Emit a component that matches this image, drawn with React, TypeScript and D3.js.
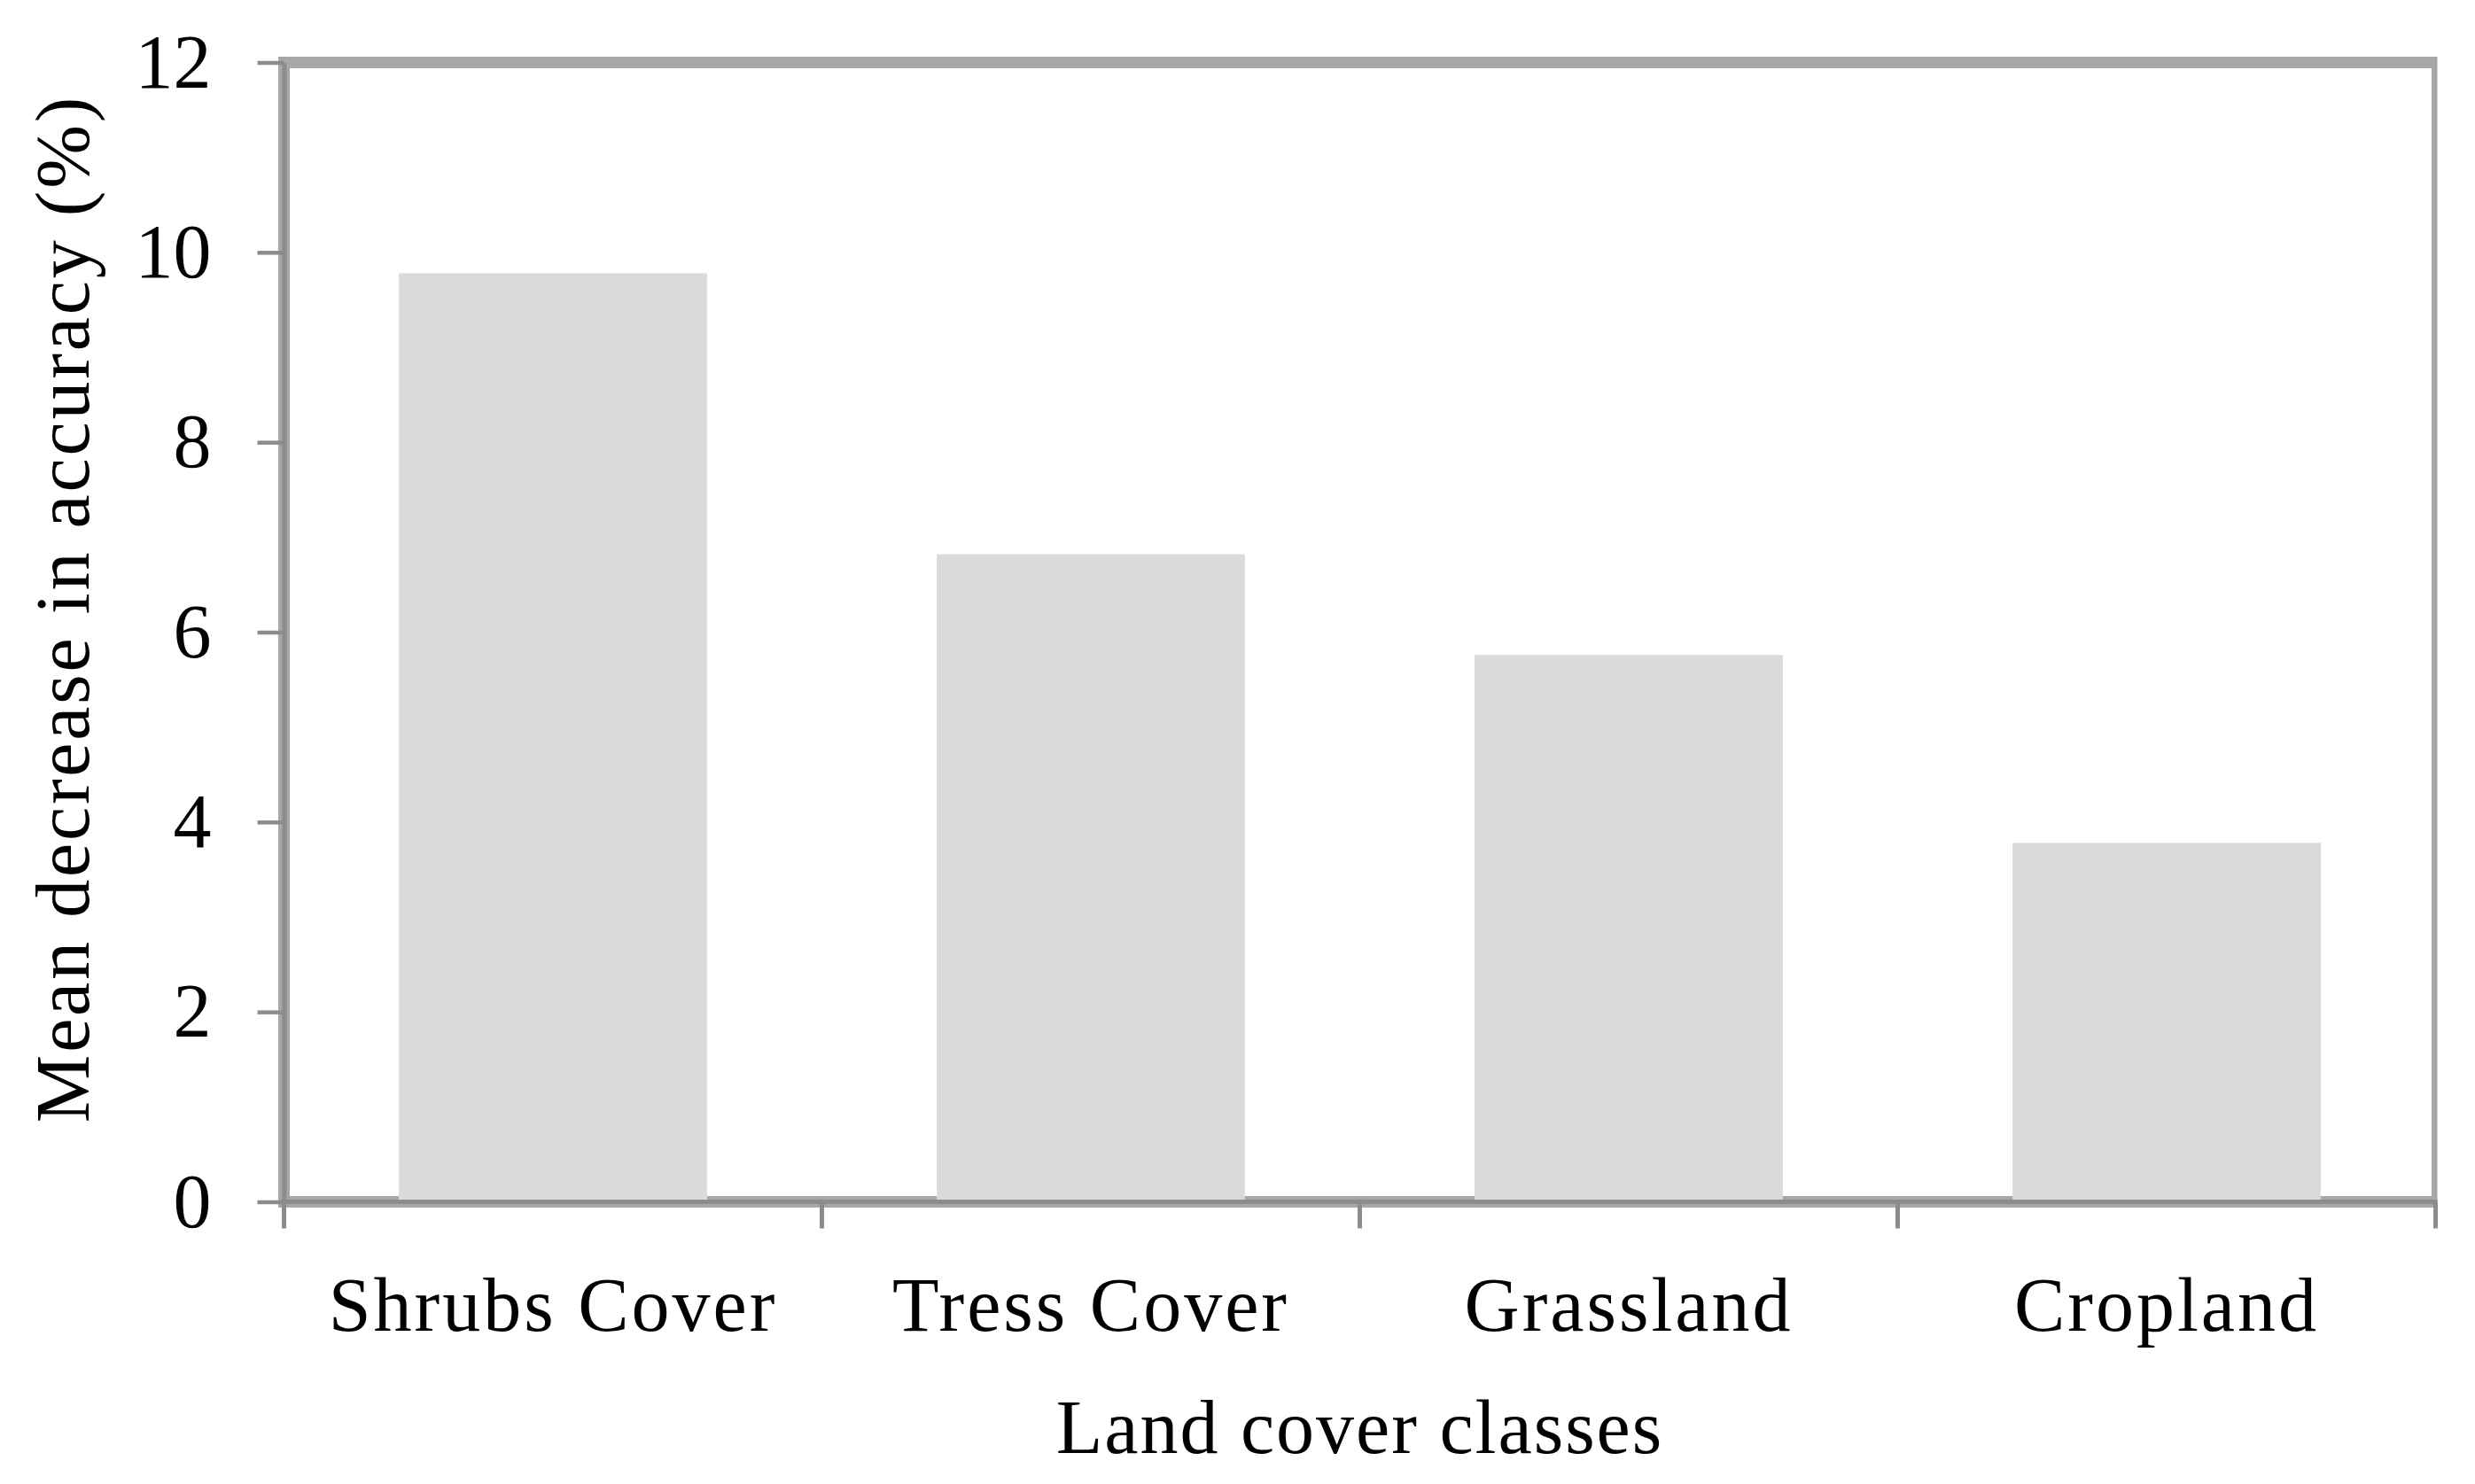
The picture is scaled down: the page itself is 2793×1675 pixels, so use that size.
import { useEffect, useRef } from "react";
import * as d3 from "d3";

// data
const categories = ["Shrubs Cover", "Tress Cover", "Grassland", "Cropland"];
const values = [9.78, 6.82, 5.76, 3.78];
const yTicks = [0, 2, 4, 6, 8, 10, 12];
const xTitle = "Land cover classes";
const yTitle = "Mean decrease in accuracy (%)";

const App = () => {
  const svgRef = useRef<SVGSVGElement | null>(null);

  useEffect(() => {
    if (!svgRef.current) return;
    const width = 2793;
    const height = 1675;
    const margin = { top: 70.5, right: 44.5, bottom: 318.5, left: 320.5 };
    const innerWidth = width - margin.left - margin.right;
    const innerHeight = height - margin.top - margin.bottom;
    const font = "'Liberation Serif', 'Times New Roman', serif";

    const svg = d3.select(svgRef.current);
    svg.selectAll("*").remove();
    svg.attr("width", width).attr("height", height);

    const g = svg.append("g").attr("transform", `translate(${margin.left},${margin.top})`);

    const xScale = d3
      .scaleBand<string>()
      .domain(categories)
      .range([0, innerWidth])
      .paddingInner(0.427)
      .paddingOuter(0.2135);

    const yScale = d3.scaleLinear().domain([0, 12]).range([innerHeight, 0]);

    // plot frame (light grey), right side clipped like the original
    svg
      .append("clipPath")
      .attr("id", "frame-clip")
      .append("rect")
      .attr("x", -20)
      .attr("y", -20)
      .attr("width", innerWidth + 22)
      .attr("height", innerHeight + 40);

    g.append("rect")
      .attr("clip-path", "url(#frame-clip)")
      .attr("x", 0)
      .attr("y", 0)
      .attr("width", innerWidth + 2)
      .attr("height", innerHeight)
      .attr("fill", "none")
      .attr("stroke", "#a7a8a6")
      .attr("stroke-width", 13);

    // bars
    g.selectAll(".bar")
      .data(categories)
      .enter()
      .append("rect")
      .attr("class", "bar")
      .attr("x", (d) => xScale(d)!)
      .attr("y", (d, i) => yScale(values[i]))
      .attr("width", xScale.bandwidth())
      .attr("height", (d, i) => innerHeight - yScale(values[i]))
      .attr("fill", "#d9dadc");

    // y axis
    const yAxis = g
      .append("g")
      .call(d3.axisLeft(yScale).tickValues(yTicks).tickSize(30).tickSizeOuter(0).tickPadding(52));
    yAxis.select(".domain").attr("stroke", "#8c8c8c").attr("stroke-width", 5);
    yAxis.selectAll(".tick line").attr("stroke", "#8c8c8c").attr("stroke-width", 4.5);
    yAxis
      .selectAll(".tick text")
      .attr("fill", "#000")
      .attr("dy", "0.32em")
      .style("font-family", font)
      .style("font-size", "86px");

    // x axis: labels centred in the bands, ticks on band boundaries
    const xAxis = g
      .append("g")
      .attr("transform", `translate(0,${innerHeight})`)
      .call(d3.axisBottom(xScale).tickSize(0).tickSizeOuter(0));
    xAxis.select(".domain").attr("stroke", "#8c8c8c").attr("stroke-width", 5).attr("d", `M-2.5,0H${innerWidth + 2}`);
    xAxis
      .selectAll(".tick text")
      .attr("fill", "#000")
      .attr("y", 145.5)
      .attr("dy", 0)
      .style("font-family", font)
      .style("font-size", "86px")
      .style("letter-spacing", "3px");

    const boundaries = d3.range(categories.length + 1).map((i) => i * xScale.step());
    xAxis
      .selectAll(".boundary")
      .data(boundaries)
      .enter()
      .append("line")
      .attr("class", "boundary")
      .attr("x1", (d) => d)
      .attr("x2", (d) => d)
      .attr("y1", 0)
      .attr("y2", 30)
      .attr("stroke", "#8c8c8c")
      .attr("stroke-width", 5);

    // axis titles
    g.append("text")
      .attr("x", innerWidth / 2)
      .attr("y", innerHeight + 283)
      .attr("text-anchor", "middle")
      .style("font-family", font)
      .style("font-size", "86px")
      .style("letter-spacing", "2px")
      .text(xTitle);

    g.append("text")
      .attr("transform", `translate(${100 - margin.left},${687 - margin.top}) rotate(-90)`)
      .attr("text-anchor", "middle")
      .style("font-family", font)
      .style("font-size", "86px")
      .style("letter-spacing", "2.8px")
      .text(yTitle);
  }, []);

  return (
    <div style={{ position: "absolute", left: 0, top: 0, background: "#fff" }}>
      <svg ref={svgRef} style={{ display: "block" }}></svg>
    </div>
  );
};

export default App;
